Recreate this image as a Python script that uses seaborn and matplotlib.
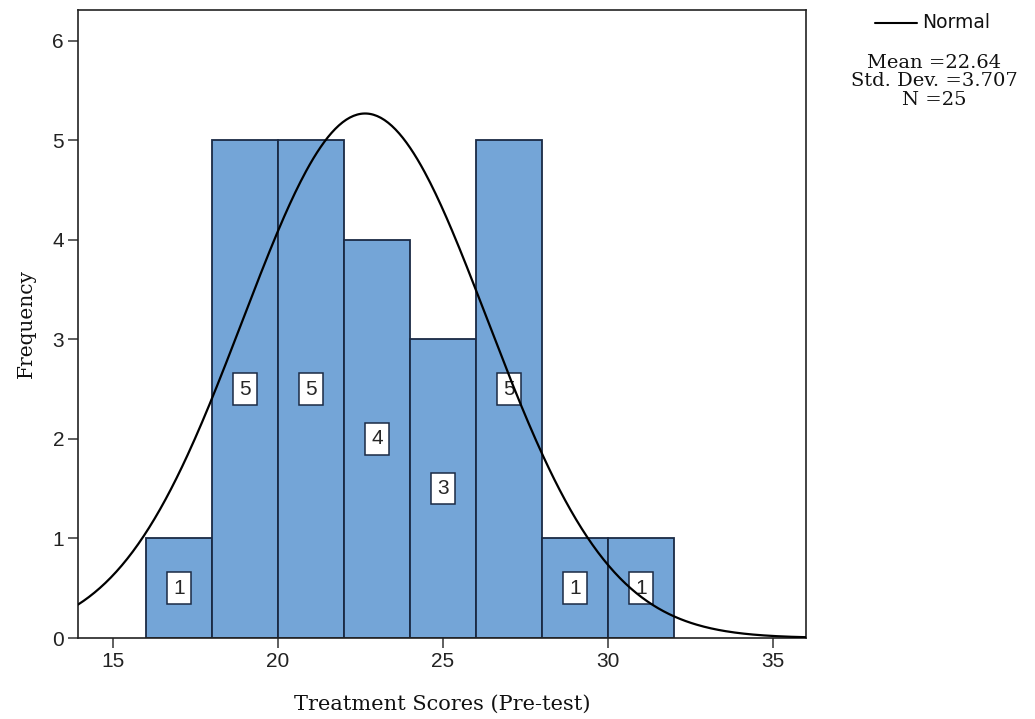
import numpy as np
import pandas as pd
import matplotlib
matplotlib.use("Agg")
import matplotlib.pyplot as plt
import seaborn as sns

# Data
bin_edges = [16, 18, 20, 22, 24, 26, 28, 30, 32]
counts = [1, 5, 5, 4, 3, 5, 1, 1]
x_ticks = [15, 20, 25, 30, 35]
y_ticks = [0, 1, 2, 3, 4, 5, 6]
mean_val = 22.64
sd_val = 3.707
n_val = 25
curve_peak = 5.27  # height of the normal curve's peak

sns.set_theme(style="white")
plt.rcParams['font.family'] = ['Liberation Sans', 'DejaVu Sans']

fig = plt.figure(figsize=(10.35, 7.19), dpi=100)
ax = fig.add_axes([78/1035, 1-638/719, (806-78)/1035, (638-10)/719])

centers = [(a + b) / 2 for a, b in zip(bin_edges[:-1], bin_edges[1:])]
df = pd.DataFrame({"score": centers, "count": counts})
sns.histplot(data=df, x="score", weights="count", bins=bin_edges, ax=ax,
             color="#74a5d7", edgecolor="#1a2a44", linewidth=1.3, alpha=1.0)

# Normal curve
xs = np.linspace(13.94, 36.0, 400)
ys = curve_peak * np.exp(-0.5 * ((xs - mean_val) / sd_val) ** 2)
sns.lineplot(x=xs, y=ys, ax=ax, color="black", linewidth=1.6, zorder=5)

for c, n in zip(centers, counts):
    ax.text(c, n / 2, str(n), ha="center", va="center", fontsize=15,
            family=['Liberation Sans'], zorder=4,
            bbox=dict(boxstyle="square,pad=0.3", fc="white", ec="#1a2a44", lw=1.1))

ax.set_xlim(13.94, 36.0)
ax.set_ylim(0, 6.31)
ax.set_xticks(x_ticks)
ax.set_yticks(y_ticks)
ax.tick_params(axis="both", which="major", labelsize=15, length=7, width=1.2,
               color="#444444", labelcolor="#222222", bottom=True, left=True, pad=3)
ax.set_xlabel("Treatment Scores (Pre-test)", fontsize=15, family=['DejaVu Serif'],
              labelpad=17, color="#111111")
ax.set_ylabel("Frequency", fontsize=14.5, family=['DejaVu Serif'], labelpad=12,
              color="#111111")
for s in ax.spines.values():
    s.set_color("#222222")
    s.set_linewidth(1.2)

# Legend / stats
fig.lines.append(plt.Line2D([875/1035, 917/1035], [1-23/719, 1-23/719],
                            transform=fig.transFigure, color="black", lw=1.5))
fig.text(922/1035, 1-23/719, "Normal", ha="left", va="center", fontsize=13.5,
         family=['DejaVu Sans'], color="#111111")
stat_lines = [f"Mean ={mean_val:.2f}", f"Std. Dev. ={sd_val:.3f}", f"N ={n_val}"]
for i, t in enumerate(stat_lines):
    fig.text(934/1035, 1-(63 + 18.5 * i)/719, t, ha="center", va="center",
             fontsize=14, family=['DejaVu Serif'], color="#111111")

fig.savefig("out.png", dpi=100, facecolor="white")
